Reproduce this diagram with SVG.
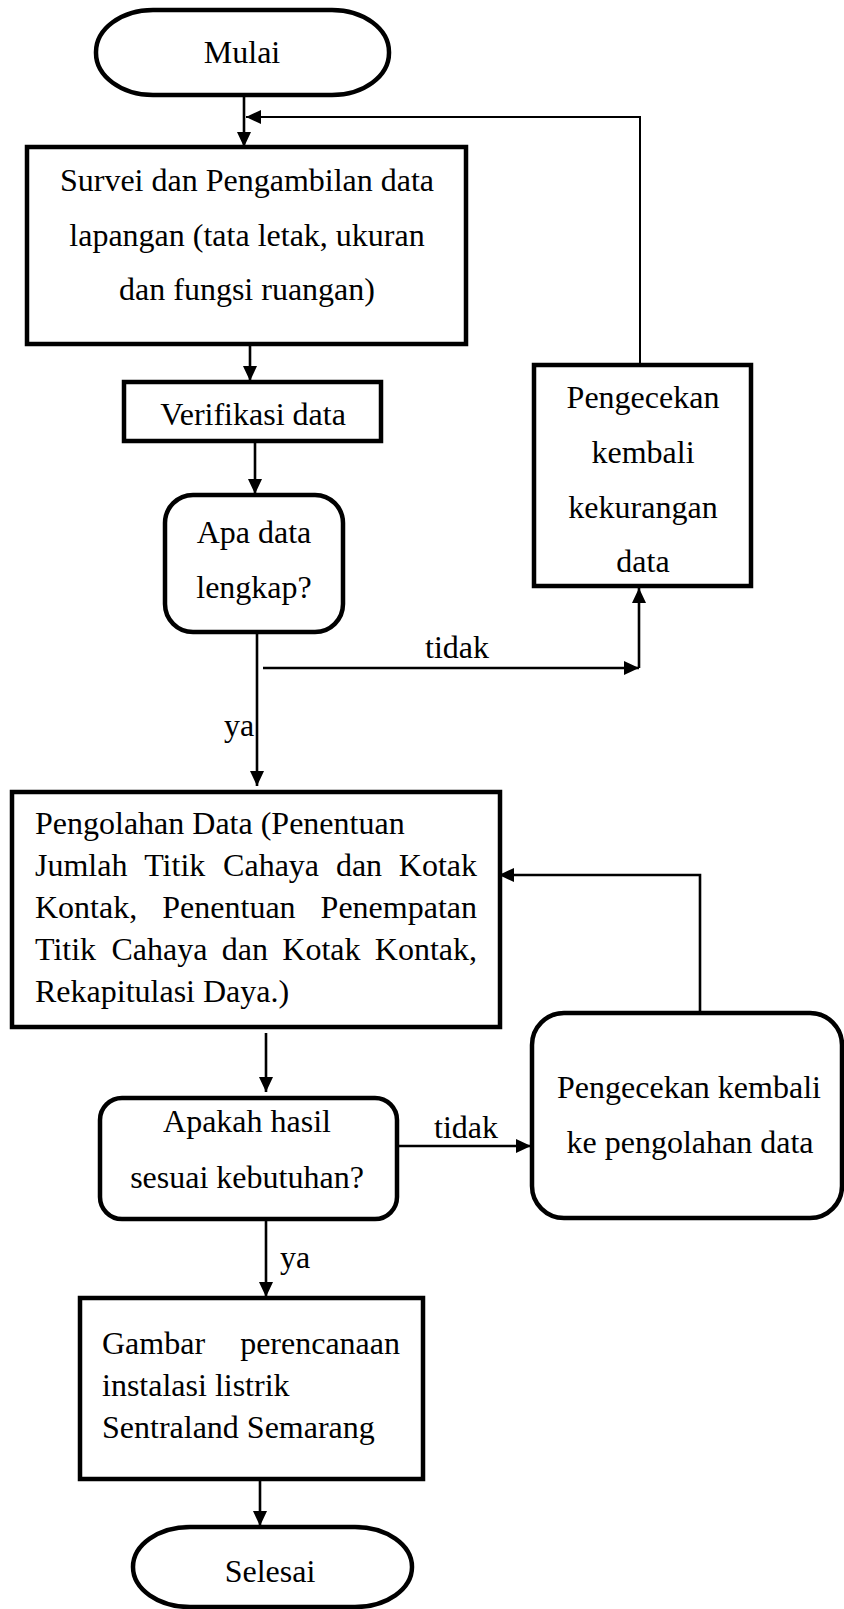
<svg xmlns="http://www.w3.org/2000/svg" width="844" height="1609" viewBox="0 0 844 1609">
<style>
.box{fill:#fff;stroke:#000;stroke-width:4.5}
.ln{fill:none;stroke:#000;stroke-width:2.6}
.thin{fill:none;stroke:#000;stroke-width:2}
.t{font-family:"Liberation Serif","Times New Roman",serif;font-size:32px;fill:#000}
.c{text-anchor:middle}
.e{text-anchor:end}
</style>
<defs>
<marker id="ah" markerUnits="userSpaceOnUse" markerWidth="15" markerHeight="14" refX="15" refY="7" orient="auto">
<path d="M0,0 L15,7 L0,14 z" fill="#000"/>
</marker>
</defs>
<rect width="844" height="1609" fill="#fff"/>
<g id="connectors">
<line class="ln" x1="244" y1="95" x2="244" y2="147" marker-end="url(#ah)"/>
<path class="thin" d="M640 364 V117 H246" marker-end="url(#ah)"/>
<line class="ln" x1="250" y1="345" x2="250" y2="381" marker-end="url(#ah)"/>
<line class="ln" x1="255" y1="441" x2="255" y2="494" marker-end="url(#ah)"/>
<line class="ln" x1="257" y1="632" x2="257" y2="786" marker-end="url(#ah)"/>
<line class="ln" x1="263" y1="668" x2="639" y2="668" marker-end="url(#ah)"/>
<line class="ln" x1="639" y1="668" x2="639" y2="588" marker-end="url(#ah)"/>
<line class="ln" x1="266" y1="1033" x2="266" y2="1092" marker-end="url(#ah)"/>
<line class="ln" x1="397" y1="1146" x2="531" y2="1146" marker-end="url(#ah)"/>
<path class="ln" d="M700 1012 V875 H499" marker-end="url(#ah)"/>
<line class="ln" x1="266" y1="1219" x2="266" y2="1297" marker-end="url(#ah)"/>
<line class="ln" x1="260" y1="1479" x2="260" y2="1526" marker-end="url(#ah)"/>
<text class="t c" x="457" y="658">tidak</text>
<text class="t" x="224" y="736">ya</text>
<text class="t c" x="466" y="1138">tidak</text>
<text class="t" x="280" y="1268">ya</text>
</g>
<g id="mulai">
<rect class="box" x="96" y="10" width="293" height="85" rx="57" ry="42"/>
<text class="t c" x="242" y="63">Mulai</text>
</g>
<g id="survei">
<rect class="box" x="27" y="147" width="439" height="197"/>
<text class="t c" x="247" y="191">Survei dan Pengambilan data</text>
<text class="t c" x="247" y="246">lapangan (tata letak, ukuran</text>
<text class="t c" x="247" y="300">dan fungsi ruangan)</text>
</g>
<g id="verifikasi">
<rect class="box" x="124" y="382" width="257" height="59"/>
<text class="t c" x="253" y="425">Verifikasi data</text>
</g>
<g id="apa-data">
<rect class="box" x="165" y="495" width="178" height="137" rx="28" ry="28"/>
<text class="t c" x="254" y="543">Apa data</text>
<text class="t c" x="254" y="598">lengkap?</text>
</g>
<g id="pengecekan-data">
<rect class="box" x="534" y="365" width="217" height="221"/>
<text class="t c" x="643" y="408">Pengecekan</text>
<text class="t c" x="643" y="463">kembali</text>
<text class="t c" x="643" y="518">kekurangan</text>
<text class="t c" x="643" y="572">data</text>
</g>
<g id="pengolahan">
<rect class="box" x="12" y="792" width="488" height="235"/>
<text class="t" x="35" y="834">Pengolahan Data (Penentuan</text>
<text class="t" y="876"><tspan x="35">Jumlah</tspan><tspan x="144.2">Titik</tspan><tspan x="223.1">Cahaya</tspan><tspan x="335.9">dan</tspan><tspan x="398.8">Kotak</tspan></text>
<text class="t" y="918"><tspan x="35">Kontak,</tspan><tspan x="162.3">Penentuan</tspan><tspan x="320.6">Penempatan</tspan></text>
<text class="t" y="960"><tspan x="35">Titik</tspan><tspan x="111.5">Cahaya</tspan><tspan x="221.8">dan</tspan><tspan x="282.3">Kotak</tspan><tspan x="374.8">Kontak,</tspan></text>
<text class="t" x="35" y="1002">Rekapitulasi Daya.)</text>
</g>
<g id="apakah">
<rect class="box" x="100" y="1098" width="297" height="121" rx="22" ry="22"/>
<text class="t c" x="247" y="1132">Apakah hasil</text>
<text class="t c" x="247" y="1188">sesuai kebutuhan?</text>
</g>
<g id="pengecekan-olah">
<rect class="box" x="532" y="1013" width="310" height="205" rx="32" ry="32"/>
<text class="t c" x="689" y="1098">Pengecekan kembali</text>
<text class="t c" x="690" y="1153">ke pengolahan data</text>
</g>
<g id="gambar">
<rect class="box" x="80" y="1298" width="343" height="181"/>
<text class="t" x="102" y="1354">Gambar</text>
<text class="t e" x="400" y="1354">perencanaan</text>
<text class="t" x="102" y="1396">instalasi listrik</text>
<text class="t" x="102" y="1438">Sentraland Semarang</text>
</g>
<g id="selesai">
<rect class="box" x="133" y="1527" width="279" height="80" rx="57" ry="40"/>
<text class="t c" x="270" y="1582">Selesai</text>
</g>
</svg>
